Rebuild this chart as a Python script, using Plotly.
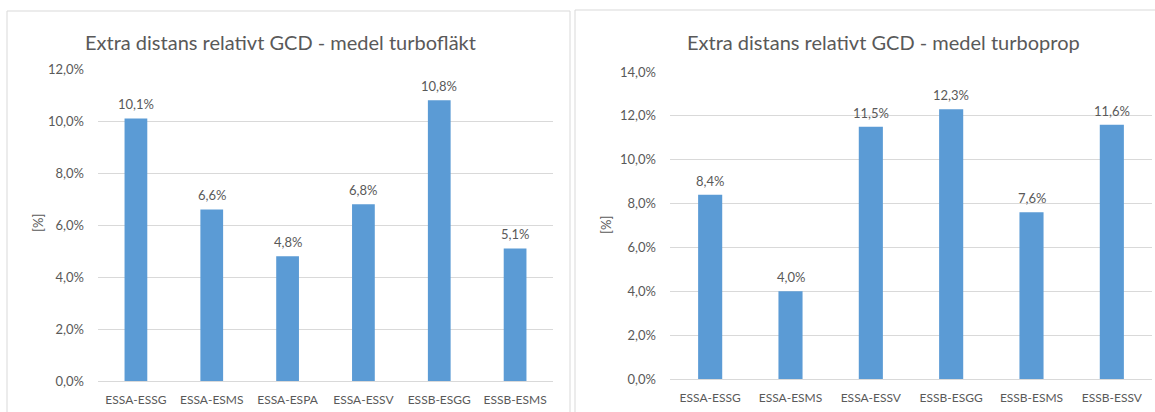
import plotly.graph_objects as go

# Data
cats_fan = ["ESSA-ESSG", "ESSA-ESMS", "ESSA-ESPA", "ESSA-ESSV", "ESSB-ESGG", "ESSB-ESMS"]
vals_fan = [10.1, 6.6, 4.8, 6.8, 10.8, 5.1]
cats_prop = ["ESSA-ESSG", "ESSA-ESMS", "ESSA-ESSV", "ESSB-ESGG", "ESSB-ESMS", "ESSB-ESSV"]
vals_prop = [8.4, 4.0, 11.5, 12.3, 7.6, 11.6]
title_fan = "Extra distans relativt GCD - medel turbofläkt"
title_prop = "Extra distans relativt GCD - medel turboprop"
ytitle = "[%]"

W, H = 1155, 412
FONT = "Lato"
GRAY = "#595959"
BAR = "#5B9BD5"
GRID = "#D9D9D9"

def px(x):
    return x / W

def py(y):
    return 1 - y / H

def fmt(v):
    return f"{v:.1f}".replace(".", ",") + "%"

fig = go.Figure()
fig.add_trace(go.Bar(x=cats_fan, y=vals_fan, marker_color=BAR, xaxis="x", yaxis="y",
                     hoverinfo="skip"))
fig.add_trace(go.Bar(x=cats_prop, y=vals_prop, marker_color=BAR, xaxis="x2", yaxis="y2",
                     hoverinfo="skip"))

ytickfont = dict(size=13, color=GRAY, family=FONT)
xtickfont = dict(size=12, color=GRAY, family=FONT)
common_y = dict(showgrid=True, gridcolor=GRID, gridwidth=1, zeroline=False, showline=False,
                tickformat=".1f", ticksuffix="%", tickfont=ytickfont, ticks="", ticklen=0,
                ticklabelstandoff=13, automargin=False)
common_x = dict(showgrid=False, zeroline=False, showline=True, linecolor=GRID, linewidth=1,
                tickfont=xtickfont, ticks="", ticklabelstandoff=8, automargin=False)

annotations = [
    dict(text=title_fan, xref="paper", yref="paper", x=px(280), y=py(42), showarrow=False,
         xanchor="center", yanchor="middle", font=dict(size=20, color=GRAY, family=FONT)),
    dict(text=title_prop, xref="paper", yref="paper", x=px(883), y=py(42), showarrow=False,
         xanchor="center", yanchor="middle", font=dict(size=20, color=GRAY, family=FONT)),
    dict(text=ytitle, xref="paper", yref="paper", x=px(38), y=py(223), showarrow=False,
         textangle=-90, xanchor="center", yanchor="middle",
         font=dict(size=13, color=GRAY, family=FONT)),
    dict(text=ytitle, xref="paper", yref="paper", x=px(606), y=py(225), showarrow=False,
         textangle=-90, xanchor="center", yanchor="middle",
         font=dict(size=13, color=GRAY, family=FONT)),
]
for c, v in zip(cats_fan, vals_fan):
    annotations.append(dict(text=fmt(v), x=c, y=v, xref="x", yref="y", showarrow=False,
                            yanchor="middle", yshift=14, font=dict(size=13, color=GRAY, family=FONT)))
for c, v in zip(cats_prop, vals_prop):
    annotations.append(dict(text=fmt(v), x=c, y=v, xref="x2", yref="y2", showarrow=False,
                            yanchor="middle", yshift=14, font=dict(size=13, color=GRAY, family=FONT)))

fig.update_layout(
    template="none",
    width=W, height=H,
    margin=dict(l=0, r=0, t=0, b=0, autoexpand=False),
    paper_bgcolor="white", plot_bgcolor="white",
    showlegend=False,
    separators=", ",
    bargap=0.70,
    font=dict(family=FONT, color=GRAY),
    xaxis=dict(domain=[px(98), px(553)], anchor="y", **common_x),
    yaxis=dict(domain=[py(381), py(69)], anchor="x", range=[0, 12], dtick=2, **common_y),
    xaxis2=dict(domain=[px(670), px(1152)], anchor="y2", **common_x),
    yaxis2=dict(domain=[py(379), py(72)], anchor="x2", range=[0, 14], dtick=2, **common_y),
    shapes=[
        dict(type="rect", xref="paper", yref="paper", x0=px(7), x1=px(570), y0=py(430), y1=py(11),
             line=dict(color=GRID, width=1), fillcolor="rgba(0,0,0,0)", layer="below"),
        dict(type="rect", xref="paper", yref="paper", x0=px(575), x1=px(1170), y0=py(430), y1=py(10),
             line=dict(color=GRID, width=1), fillcolor="rgba(0,0,0,0)", layer="below"),
    ],
    annotations=annotations,
)

fig.write_html("out.html")
